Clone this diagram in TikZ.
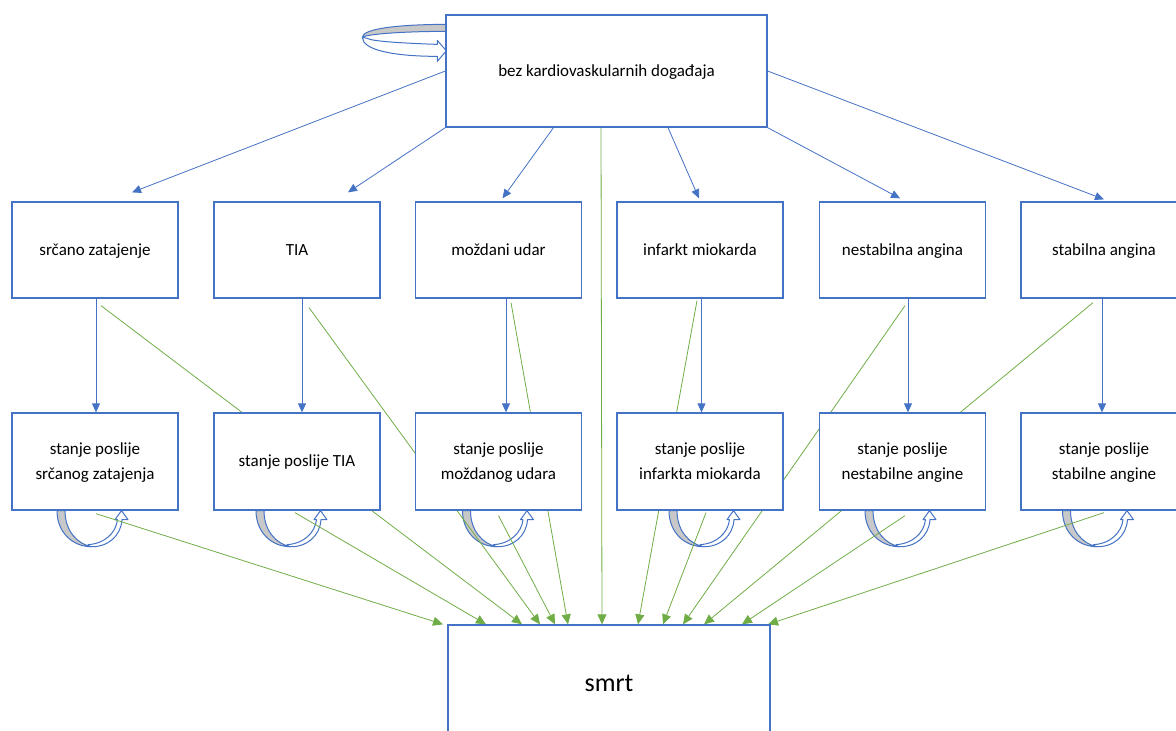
\documentclass[tikz,border=0pt]{standalone}
\usepackage{fontspec}
\setmainfont{Carlito}
\usetikzlibrary{arrows.meta,calc}
\pgfdeclarelayer{loops}
\pgfdeclarelayer{links}
\pgfsetlayers{loops,links,main}
\definecolor{bblue}{HTML}{4472C4}
\definecolor{ggreen}{HTML}{70AD47}
\definecolor{lgray}{HTML}{C8C8C8}
\newcommand{\bxt}[1]{\raisebox{-1.5pt}{\begin{tabular}{@{}c@{}}#1\end{tabular}}}
\tikzset{
 box/.style={draw=bblue, line width=1.3pt, fill=white, minimum width=166pt, minimum height=96pt,
   inner sep=0pt, font=\fontsize{17}{25}\selectfont, text=black},
 bigbox/.style={box, minimum width=321pt, minimum height=112pt},
 blink/.style={draw=bblue, line width=0.8pt, -{Triangle[length=9pt,width=8pt]}},
 glink/.style={draw=ggreen, line width=0.8pt, -{Triangle[length=10pt,width=9pt]}},
 loopback/.style={fill=lgray, draw=bblue, line width=1pt, line join=round},
 loopfront/.style={fill=white, draw=bblue, line width=1pt, line join=round},
 curvloop/.pic={
   \path[loopback] (-34,0) .. controls (-34,22) and (-18,36) .. (0,36)
      .. controls (-14,33) and (-26,20) .. (-26,0) -- cycle;
   \path[loopfront] (-1,36) .. controls (17,37) and (30,25) .. (31,9) -- (37,9) -- (30.5,0)
      -- (24,9) -- (26.5,9) .. controls (25,22) and (14,33) .. (-3,34) -- cycle;
 },
 toploop/.pic={
   \path[loopback] (3,10) .. controls (-45,10) and (-83,14) .. (-83,23)
      .. controls (-80,20) and (-45,17) .. (3,17) -- cycle;
   \path[loopfront] (-83,23) .. controls (-83,36) and (-50,42) .. (-8,42) -- (-8,47) -- (1,36.5)
      -- (-8,26) -- (-8,30) .. controls (-40,29) and (-74,27) .. (-78,24) -- cycle;
 },
}
\begin{document}
\begin{tikzpicture}[x=1pt,y=-1pt]
\useasboundingbox (0,0) rectangle (1176,731);

% nodes
\node[bigbox] (top) at (606.5,71) {\bxt{bez kardiovaskularnih događaja}};

\node[box] (r1a) at (95,250) {\bxt{srčano zatajenje}};
\node[box] (r1b) at (297,250) {\bxt{TIA}};
\node[box] (r1c) at (498.5,250) {\bxt{moždani udar}};
\node[box] (r1d) at (700,250) {\bxt{infarkt miokarda}};
\node[box] (r1e) at (902.5,250) {\bxt{nestabilna angina}};
\node[box] (r1f) at (1104,250) {\bxt{stabilna angina}};

\node[box, minimum height=97pt] (r2a) at (95,461.5) {\bxt{stanje poslije\\srčanog zatajenja}};
\node[box, minimum height=97pt] (r2b) at (297,461.5) {\bxt{stanje poslije TIA}};
\node[box, minimum height=97pt] (r2c) at (498.5,461.5) {\bxt{stanje poslije\\moždanog udara}};
\node[box, minimum height=97pt] (r2d) at (700,461.5) {\bxt{stanje poslije\\infarkta miokarda}};
\node[box, minimum height=97pt] (r2e) at (902.5,461.5) {\bxt{stanje poslije\\nestabilne angine}};
\node[box, minimum height=97pt] (r2f) at (1104,461.5) {\bxt{stanje poslije\\stabilne angine}};

\node[box, minimum width=322pt, minimum height=116pt, font=\fontsize{26}{30}\selectfont] (smrt) at (609,683) {smrt};

% loops
\begin{pgfonlayer}{loops}
\path (top.north west) pic {toploop};
\path ($(r2a.south)+(-4,0)$) pic {curvloop};
\path ($(r2b.south)+(-7,0)$) pic {curvloop};
\path ($(r2c.south)+(-2,0)$) pic {curvloop};
\path ($(r2d.south)+(3,0)$) pic {curvloop};
\path ($(r2e.south)+(-3.5,0)$) pic {curvloop};
\path ($(r2f.south)+(-7.5,0)$) pic {curvloop};
\end{pgfonlayer}

% connectors
\begin{pgfonlayer}{links}
% top to events
\draw[blink] (top.west) -- ($(r1a.north)+(37,-9)$);
\draw[blink] (top.south west) -- ($(r1b.north)+(51,-9)$);
\draw[blink] ($(top.south)+(-53,0)$) -- ($(r1c.north)+(4,-3)$);
\draw[blink] ($(top.south)+(61.5,0)$) -- ($(r1d.north)+(-1,-3)$);
\draw[blink] (top.south east) -- ($(r1e.north)+(-2.5,-3)$);
\draw[blink] (top.east) -- ($(r1f.north)+(0,-2)$);
% events to post states
\draw[blink] ($(r1a.south)+(1,0)$) -- ($(r2a.north)+(1,0)$);
\draw[blink] ($(r1b.south)+(5,0)$) -- ($(r2b.north)+(5,0)$);
\draw[blink] ($(r1c.south)+(7.5,0)$) -- ($(r2c.north)+(7.5,0)$);
\draw[blink] ($(r1d.south)+(1.5,0)$) -- ($(r2d.north)+(1.5,0)$);
\draw[blink] ($(r1e.south)+(5.5,0)$) -- ($(r2e.north)+(5.5,0)$);
\draw[blink] ($(r1f.south)+(-2,0)$) -- ($(r2f.north)+(-2,0)$);
% to death
\draw[glink] ($(r2a.south)+(1,3)$) -- ($(smrt.north)+(-166,0)$);
\draw[glink] ($(r2b.south)+(-2,2)$) -- ($(smrt.north)+(-123,0)$);
\draw[glink] ($(r1a.south)+(6,7)$) -- ($(smrt.north)+(-87,0)$);
\draw[glink] ($(r1b.south)+(12,9)$) -- ($(smrt.north)+(-69,0)$);
\draw[glink] ($(r2c.south)+(0,5)$) -- ($(smrt.north)+(-54,0)$);
\draw[glink] ($(r1c.south)+(12.5,4)$) -- ($(smrt.north)+(-41,0)$);
\draw[glink] ($(top.south)+(-5.5,0)$) -- ($(smrt.north)+(-7,0)$);
\draw[glink] ($(r1d.south)+(-3,2)$) -- ($(smrt.north)+(29,0)$);
\draw[glink] ($(r2d.south)+(6,2)$) -- ($(smrt.north)+(54,0)$);
\draw[glink] ($(r1e.south)+(2.5,7)$) -- ($(smrt.north)+(74,0)$);
\draw[glink] ($(r1f.south)+(-11,4)$) -- ($(smrt.north)+(95,0)$);
\draw[glink] ($(r2e.south)+(2.5,5)$) -- ($(smrt.north)+(133,0)$);
\draw[glink] ($(r2f.south)+(0,2)$) -- ($(smrt.north)+(159,0)$);
\end{pgfonlayer}
\end{tikzpicture}
\end{document}
